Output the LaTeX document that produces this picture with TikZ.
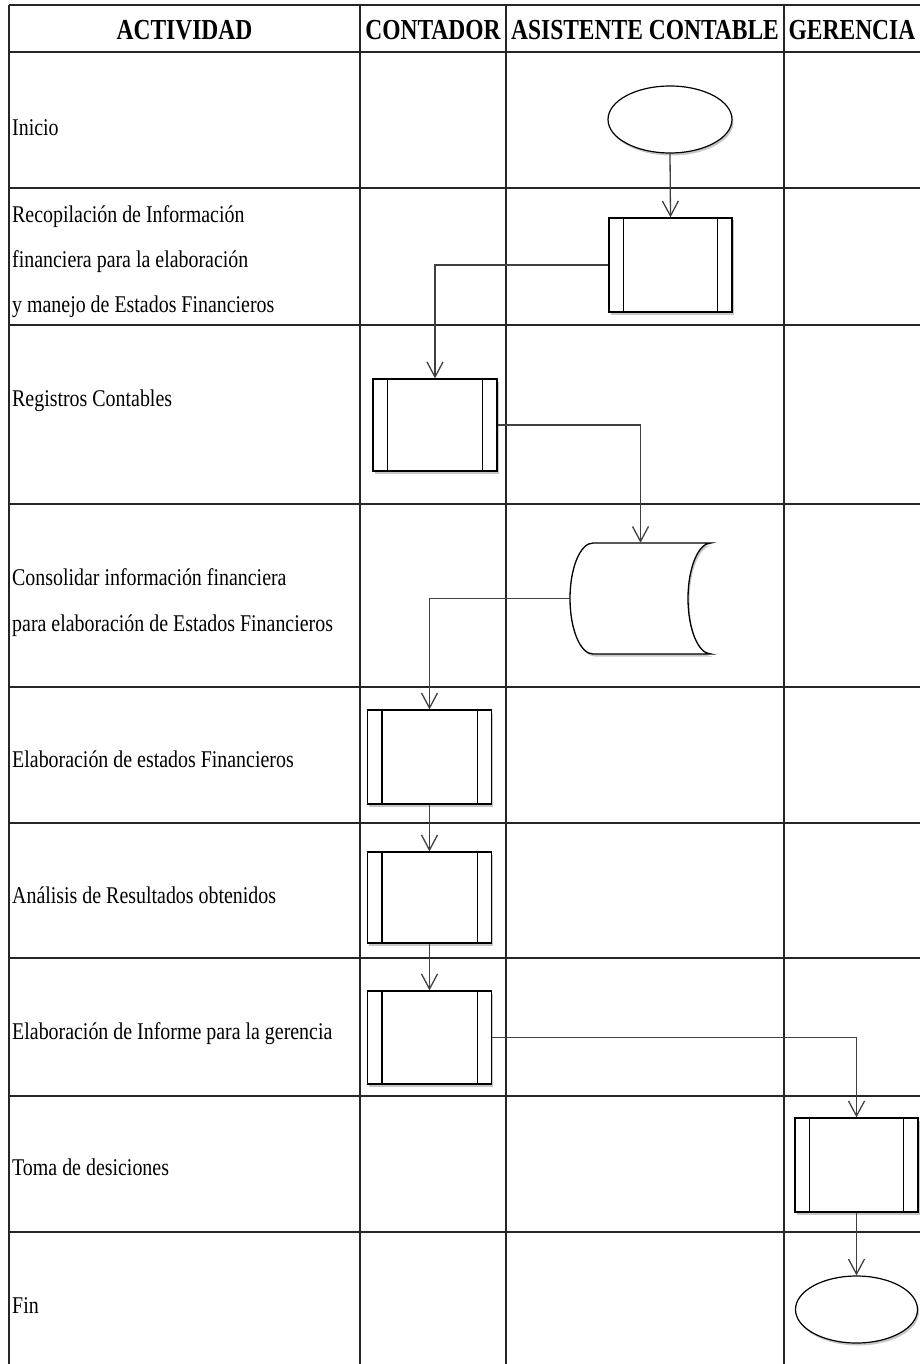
\documentclass[tikz,border=0pt]{standalone}
\usepackage{fontspec}
\setmainfont{Liberation Serif}[FakeStretch=0.83]
\newfontfamily\hdrfont{Liberation Serif}[FakeStretch=0.81]
\usetikzlibrary{arrows.meta,shapes.geometric,shadows,calc}
\begin{document}
\begin{tikzpicture}[x=1pt,y=-1pt,
  grid/.style={line width=1.5pt,black!85},
  hgrid/.style={line width=2pt,black!85},
  lbl/.style={anchor=base west,inner sep=0pt,font=\fontsize{24}{28}\selectfont},
  hdr/.style={anchor=base,inner sep=0pt,font=\hdrfont\bfseries\fontsize{29}{33}\selectfont},
  shad/.style={drop shadow={shadow xshift=1.5pt,shadow yshift=-2.5pt,opacity=0.22,fill=black}},
  procbox/.style={draw,line width=1.3pt,fill=white,rectangle,minimum width=124pt,minimum height=93pt,inner sep=0pt,shad},
  term/.style={draw,line width=1.2pt,fill=white,ellipse,minimum width=124pt,minimum height=67pt,inner sep=0pt,shad},
  conn/.style={line width=1.3pt,black!75,-{Straight Barb[length=15pt,width=16pt,line width=1.3pt]}},
  line/.style={line width=1.3pt,black!75}]
\useasboundingbox (0,0) rectangle (920,1364);
% grid
\draw[hgrid] (9,5) -- (920,5);
\draw[hgrid] (9,52) -- (920,52);
\foreach \yy in {188,325,504,687,823,958,1096,1232}
  \draw[grid] (9,\yy) -- (920,\yy);
\foreach \xx in {9,360,506,784}
  \draw[grid] (\xx,5) -- (\xx,1364);
% header
\node[hdr] (h1) at (184.5,40) {ACTIVIDAD};
\node[hdr] (h2) at (433,40) {CONTADOR};
\node[hdr] (h3) at (645,40) {ASISTENTE CONTABLE};
\node[hdr] (h4) at (852,40) {GERENCIA};
% labels
\node[lbl] (t1) at (12,136) {Inicio};
\node[lbl] (t2a) at (12,223) {Recopilación de Información};
\node[lbl] (t2b) at (12,267) {financiera para la elaboración};
\node[lbl] (t2c) at (12,312) {y manejo de Estados Financieros};
\node[lbl] (t3) at (12,406) {Registros Contables};
\node[lbl] (t4a) at (12,585) {Consolidar información financiera};
\node[lbl] (t4b) at (12,631) {para elaboración de Estados Financieros};
\node[lbl] (t5) at (12,767) {Elaboración de estados Financieros};
\node[lbl] (t6) at (12,903) {Análisis de Resultados obtenidos};
\node[lbl] (t7) at (12,1039) {Elaboración de Informe para la gerencia};
\node[lbl] (t8) at (12,1175) {Toma de desiciones};
\node[lbl] (t9) at (12,1313) {Fin};
% shapes
\node[term] (ini) at (670,119.5) {};
\node[procbox,minimum width=123pt,minimum height=94pt] (b1) at (670.5,265) {};
\node[procbox,minimum height=92pt] (b2) at (435,425) {};
\node[procbox,minimum height=94pt] (b3) at (429.5,757) {};
\node[procbox,minimum height=91pt] (b4) at (429.5,897.5) {};
\node[procbox,minimum height=93pt] (b5) at (429.5,1037.5) {};
\node[procbox,minimum width=123pt,minimum height=94pt] (b6) at (856.5,1165) {};
\node[term,minimum width=122pt] (fin) at (856.5,1309.5) {};
\foreach \b in {b1,b2,b3,b4,b5,b6}{
  \draw[line width=1.3pt] ([xshift=15pt]\b.north west) -- ([xshift=15pt]\b.south west);
  \draw[line width=1.3pt] ([xshift=-15pt]\b.north east) -- ([xshift=-15pt]\b.south east);
}
% stored data shape
\node[minimum width=141pt,minimum height=111pt,inner sep=0pt] (cons) at (640.5,598.5) {};
\fill[black,opacity=0.22] ([shift={(1.5,2.5)}]593,543) -- ++(118,0) .. controls +(-12.7,0) and +(0,-30.7) .. ++(-23,55.5) .. controls +(0,30.7) and +(-12.7,0) .. ++(23,55.5) -- ++(-118,0) .. controls +(-12.7,0) and +(0,30.7) .. ++(-23,-55.5) .. controls +(0,-30.7) and +(-12.7,0) .. cycle;
\draw[line width=1.3pt,fill=white] (593,543) -- (711,543)
  .. controls (698.3,543) and (688,567.8) .. (688,598.5)
  .. controls (688,629.2) and (698.3,654) .. (711,654)
  -- (593,654)
  .. controls (580.3,654) and (570,629.2) .. (570,598.5)
  .. controls (570,567.8) and (580.3,543) .. cycle;
% connectors
\draw[conn] (ini.south) -- (b1.north);
\draw[conn] (b1.west) -| (b2.north);
\draw[conn] (b2.east) -| (cons.north);
\draw[conn] (cons.west) -| (b3.north);
\draw[conn] (b3.south) -- (b4.north);
\draw[conn] (b4.south) -- (b5.north);
\draw[conn] (b5.east) -| (b6.north);
\draw[conn] (b6.south) -- (fin.north);
\end{tikzpicture}
\end{document}
